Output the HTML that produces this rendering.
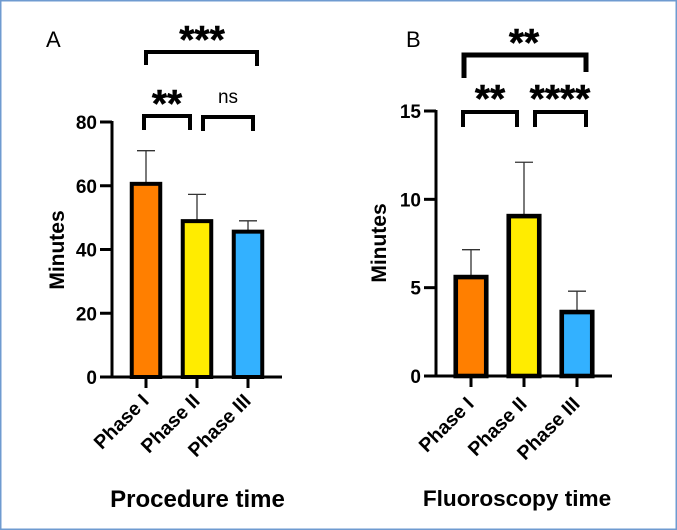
<!DOCTYPE html>
<html>
<head>
<meta charset="utf-8">
<style>
html,body{margin:0;padding:0;background:#fff;}
svg{display:block;}
text{font-family:"Liberation Sans",sans-serif;fill:#000;}
.tick{font-size:19px;font-weight:bold;}
.cat{font-size:19.5px;font-weight:bold;}
.ylab{font-size:21px;font-weight:bold;}
.title-a{font-size:24px;font-weight:bold;}
.title-b{font-size:22.6px;font-weight:bold;}
.stars{font-size:39px;font-weight:bold;stroke:#000;stroke-width:0.5px;}
.panel{font-size:22px;}
</style>
</head>
<body>
<svg id="chart" width="677" height="530" viewBox="0 0 677 530" xmlns="http://www.w3.org/2000/svg">
<rect x="0.75" y="0.75" width="675.5" height="528.5" fill="#fff" stroke="#6f9bd0" stroke-width="1.5"/>

<text class="panel" x="46" y="47">A</text>
<text class="panel" x="406" y="47">B</text>

<g fill="none" stroke="#000" stroke-linejoin="miter">
<path d="M146 65V52H257V66" stroke-width="4"/>
<path d="M144 130V116H190V130" stroke-width="4"/>
<path d="M203 131V117H253V131" stroke-width="4"/>
<path d="M464 78V55H586V72" stroke-width="5"/>
<path d="M463 127V112H517V127" stroke-width="4"/>
<path d="M535 127V112H586V127" stroke-width="4"/>
</g>

<text class="stars" x="202" y="53" text-anchor="middle">***</text>
<text class="stars" x="167" y="117" text-anchor="middle">**</text>
<text x="228" y="103" text-anchor="middle" font-size="19">ns</text>
<text class="stars" x="524" y="56" text-anchor="middle">**</text>
<text class="stars" x="490" y="112" text-anchor="middle">**</text>
<text class="stars" x="560" y="112" text-anchor="middle">****</text>

<g id="panel-a"></g>
<g id="panel-b"></g>

<text class="title-a" x="197.5" y="507" text-anchor="middle">Procedure time</text>
<text class="title-b" x="517" y="506" text-anchor="middle">Fluoroscopy time</text>
</svg>

<script>
const categories = ['Phase I', 'Phase II', 'Phase III'];
const barColors = ['#ff7f00', '#ffec00', '#33b1ff'];

const procedureMeans = [60.6, 48.9, 45.6];
const procedureUpper = [71, 57.3, 49];
const procedureTicks = [0, 20, 40, 60, 80];

const fluoroMeans = [5.6, 9.05, 3.62];
const fluoroUpper = [7.15, 12.1, 4.8];
const fluoroTicks = [0, 5, 10, 15];

const NS = 'http://www.w3.org/2000/svg';
function make(parent, tag, attrs, text) {
  const el = document.createElementNS(NS, tag);
  for (const k in attrs) el.setAttribute(k, attrs[k]);
  if (text !== undefined) el.textContent = text;
  parent.appendChild(el);
  return el;
}

function drawPanel(g, cfg, means, upper, ticks) {
  const maxTick = ticks[ticks.length - 1];
  const y = v => cfg.y0 + (cfg.yTop - cfg.y0) * v / maxTick;
  const x = i => cfg.x0 + cfg.step * i;
  const baseY = y(0);

  means.forEach((m, i) => {
    const cx = x(i);
    const topY = y(upper[i]);
    const err = make(g, 'line', {x1: cx, x2: cx, y1: y(m), y2: topY, stroke: '#333', 'stroke-width': 1.3});
    
    
    const cap = make(g, 'line', {x1: cx - 9, x2: cx + 9, y1: topY, y2: topY, stroke: '#333', 'stroke-width': 1.3});
    
    
    const bar = make(g, 'rect', {
      x: cx - cfg.barW / 2, y: y(m), width: cfg.barW, height: baseY - y(m),
      fill: barColors[i], stroke: '#000', 'stroke-width': cfg.barStroke
    });
    
    
  });

  const yAxis = make(g, 'line', {x1: cfg.axisX, x2: cfg.axisX, y1: y(maxTick) - 1, y2: baseY + 1, stroke: '#000', 'stroke-width': 3});
  
  
  const xAxis = make(g, 'line', {x1: cfg.axisX - 12, x2: cfg.xEnd, y1: baseY, y2: baseY, stroke: '#000', 'stroke-width': 3});
  
  

  ticks.forEach(t => {
    const tm = make(g, 'line', {x1: cfg.axisX - 12, x2: cfg.axisX, y1: y(t), y2: y(t), stroke: '#000', 'stroke-width': 3});
    
    
    const lb = make(g, 'text', {class: 'tick', x: cfg.axisX - 15, y: y(t) + 7, 'text-anchor': 'end'}, String(t));
    
    
  });

  categories.forEach((c, i) => {
    const cx = x(i);
    const tm = make(g, 'line', {x1: cx, x2: cx, y1: baseY, y2: baseY + 11, stroke: '#000', 'stroke-width': 3});
    
    
    const lx = cx + 4, ly = baseY + cfg.labelDy;
    const lb = make(g, 'text', {class: 'cat', x: lx, y: ly, 'text-anchor': 'end', transform: 'rotate(-45 ' + lx + ' ' + ly + ')'}, c);
    
    
  });

  const yl = make(g, 'text', {class: 'ylab', x: cfg.yLabelX, y: cfg.yLabelY, 'text-anchor': 'middle', transform: 'rotate(-90 ' + cfg.yLabelX + ' ' + cfg.yLabelY + ')'}, 'Minutes');
  
  
}

drawPanel(document.getElementById('panel-a'),
  {x0: 146, step: 51, barW: 28.5, barStroke: 4, y0: 377, yTop: 122, axisX: 112, xEnd: 282, yLabelX: 64, yLabelY: 250, labelDy: 25},
  procedureMeans, procedureUpper, procedureTicks);
drawPanel(document.getElementById('panel-b'),
  {x0: 471, step: 53, barW: 30.5, barStroke: 4.6, y0: 376, yTop: 111, axisX: 436, xEnd: 612, yLabelX: 386, yLabelY: 243, labelDy: 29},
  fluoroMeans, fluoroUpper, fluoroTicks);
</script>
</body>
</html>
